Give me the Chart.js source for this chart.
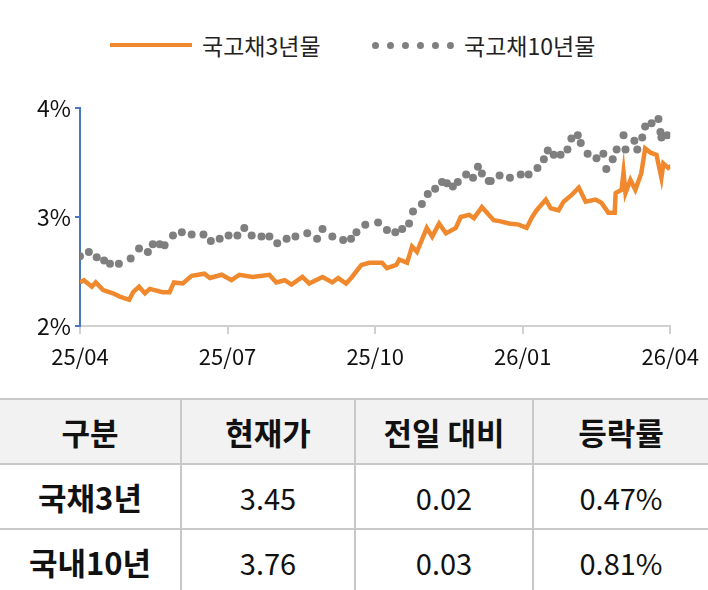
<!DOCTYPE html>
<html>
<head>
<meta charset="utf-8">
<script src="https://cdn.jsdelivr.net/npm/chart.js@4"></script>
<style>
  body { margin: 0; width: 708px; height: 590px; background: #fff; font-family: "Noto Sans CJK KR", "Noto Sans", sans-serif; position: relative; overflow: hidden; }
  #wrap { position: absolute; left: 0; top: 0; width: 708px; height: 390px; }
  .legend { position: absolute; top: 28px; font-size: 23px; color: #222; display: flex; align-items: center; }
  .legend .ln { display: inline-block; width: 82px; height: 0; margin-right: 10px; }
  table { position: absolute; left: 0; top: 398px; width: 708px; border-collapse: collapse; table-layout: fixed; }
  td, th { height: 63px; text-align: center; font-size: 29px; color: #111; border-bottom: 2px solid #c8c8c8; border-left: 2px solid #c8c8c8; padding: 0; }
  td:first-child, th:first-child { border-left: none; }
  th { background: #f2f2f2; font-weight: bold; font-size: 31px; border-top: 2px solid #c8c8c8; }
  td.k { font-weight: bold; font-size: 31px; }
</style>
</head>
<body>
<div class="legend" style="left:110px"><span class="ln" style="border-top:4px solid #f0892d"></span>국고채3년물</div>
<div class="legend" style="left:372px"><span class="ln" style="border-top:7px dotted #7f7f7f;width:82px"></span>국고채10년물</div>
<div id="wrap"><canvas id="c"></canvas></div>
<table>
  <tr><th style="width:180px">구분</th><th style="width:172px">현재가</th><th style="width:176px">전일 대비</th><th>등락률</th></tr>
  <tr><td class="k">국채3년</td><td>3.45</td><td>0.02</td><td>0.47%</td></tr>
  <tr><td class="k">국내10년</td><td>3.76</td><td>0.03</td><td>0.81%</td></tr>
</table>
<script>
// x positions in months since 25/04
const tickLabels = ['25/04', '25/07', '25/10', '26/01', '26/04'];
const x3 = [0,.08,.24,.32,.47,.67,.81,1.0,1.08,1.2,1.32,1.42,1.68,1.82,1.91,2.09,2.27,2.53,2.64,2.88,
  3.08,3.24,3.51,3.85,3.99,4.16,4.30,4.52,4.66,4.93,5.13,5.25,5.41,5.53,5.72,5.88,6.14,6.24,6.43,6.49,
  6.65,6.75,6.85,7.05,7.16,7.30,7.44,7.64,7.74,7.91,8.01,8.17,8.31,8.41,8.55,8.72,8.92,9.08,9.18,9.28,
  9.47,9.57,9.73,9.83,9.99,10.14,10.28,10.48,10.60,10.74,10.87,10.89,11.01,11.05,11.09,11.19,11.29,11.41,11.49,11.6,
  11.72,11.82,11.86,11.96,12.02];
const y3 = [2.40,2.42,2.36,2.40,2.33,2.30,2.27,2.24,2.31,2.36,2.30,2.34,2.31,2.31,2.40,2.39,2.46,2.48,2.44,2.47,
  2.42,2.47,2.45,2.47,2.40,2.42,2.38,2.45,2.39,2.45,2.40,2.44,2.39,2.45,2.56,2.58,2.58,2.53,2.56,2.61,
  2.58,2.73,2.68,2.90,2.82,2.94,2.85,2.90,3.00,3.02,2.99,3.09,3.02,2.97,2.96,2.94,2.93,2.90,2.99,3.06,
  3.16,3.08,3.06,3.14,3.20,3.27,3.14,3.16,3.13,3.04,3.04,3.22,3.25,3.41,3.22,3.34,3.25,3.40,3.63,3.59,
  3.57,3.36,3.49,3.45,3.47];
const x10 = [0,.18,.34,.49,.61,.79,1.03,1.2,1.38,1.48,1.62,1.72,1.89,2.07,2.27,2.51,2.66,2.84,3.02,3.20,
  3.34,3.49,3.69,3.85,4.01,4.2,4.38,4.62,4.82,4.93,5.13,5.35,5.51,5.62,5.8,6.06,6.24,6.41,6.55,6.69,
  6.77,6.95,7.07,7.22,7.36,7.46,7.58,7.68,7.85,7.99,8.09,8.17,8.31,8.35,8.53,8.74,8.96,9.12,9.30,9.43,
  9.51,9.63,9.77,9.91,9.99,10.12,10.18,10.32,10.5,10.64,10.7,10.83,10.91,11.05,11.09,11.27,11.33,11.43,11.49,11.62,
  11.76,11.8,11.82,11.94];
const y10 = [2.64,2.68,2.63,2.60,2.57,2.57,2.62,2.71,2.68,2.75,2.75,2.74,2.83,2.86,2.84,2.84,2.78,2.80,2.83,2.83,
  2.90,2.83,2.82,2.82,2.76,2.80,2.82,2.85,2.80,2.89,2.82,2.79,2.80,2.86,2.93,2.95,2.88,2.86,2.89,2.94,
  3.05,3.12,3.21,3.26,3.32,3.31,3.28,3.32,3.39,3.36,3.46,3.40,3.33,3.33,3.38,3.36,3.39,3.39,3.45,3.53,
  3.61,3.57,3.57,3.62,3.72,3.75,3.68,3.58,3.54,3.58,3.44,3.53,3.62,3.75,3.62,3.70,3.62,3.73,3.83,3.86,
  3.90,3.78,3.73,3.75];

const pts = (xs, ys) => xs.map((x, i) => ({ x: x, y: ys[i] }));

new Chart(document.getElementById('c'), {
  type: 'line',
  data: {
    datasets: [{
      label: '국고채10년물',
      data: pts(x10, y10),
      showLine: false,
      pointRadius: 4,
      pointBackgroundColor: '#7f7f7f',
      pointBorderWidth: 0
    }, {
      label: '국고채3년물',
      data: pts(x3, y3),
      borderColor: '#f0892d',
      borderWidth: 4.5,
      pointRadius: 0,
      tension: 0
    }]
  },
  options: {
    responsive: true,
    maintainAspectRatio: false,
    animation: false,
    layout: { padding: { top: 108, right: 36, left: 0, bottom: 0 } },
    plugins: { legend: { display: false }, tooltip: { enabled: false } },
    scales: {
      x: {
        type: 'linear', min: 0, max: 12,
        afterFit: (a) => { a.height = 64; },
        border: { color: '#d0d0d0', width: 2 },
        grid: { drawOnChartArea: false, drawTicks: true, tickLength: 8, color: '#d0d0d0', lineWidth: 2 },
        ticks: {
          stepSize: 3, padding: 9, color: '#111', font: { size: 22, family: 'Noto Sans CJK KR' },
          maxRotation: 0, autoSkip: false,
          callback: (v) => tickLabels[v / 3]
        }
      },
      y: {
        min: 2, max: 4,
        afterFit: (a) => { a.width = 80; },
        border: { color: '#4a78c0', width: 2 },
        grid: { drawOnChartArea: false, drawTicks: true, tickLength: 5, color: '#4a78c0', lineWidth: 2 },
        ticks: {
          stepSize: 1, padding: 4, color: '#111', font: { size: 23, family: 'Noto Sans CJK KR' },
          callback: (v) => v + '%'
        }
      }
    }
  }
});
</script>
</body>
</html>
